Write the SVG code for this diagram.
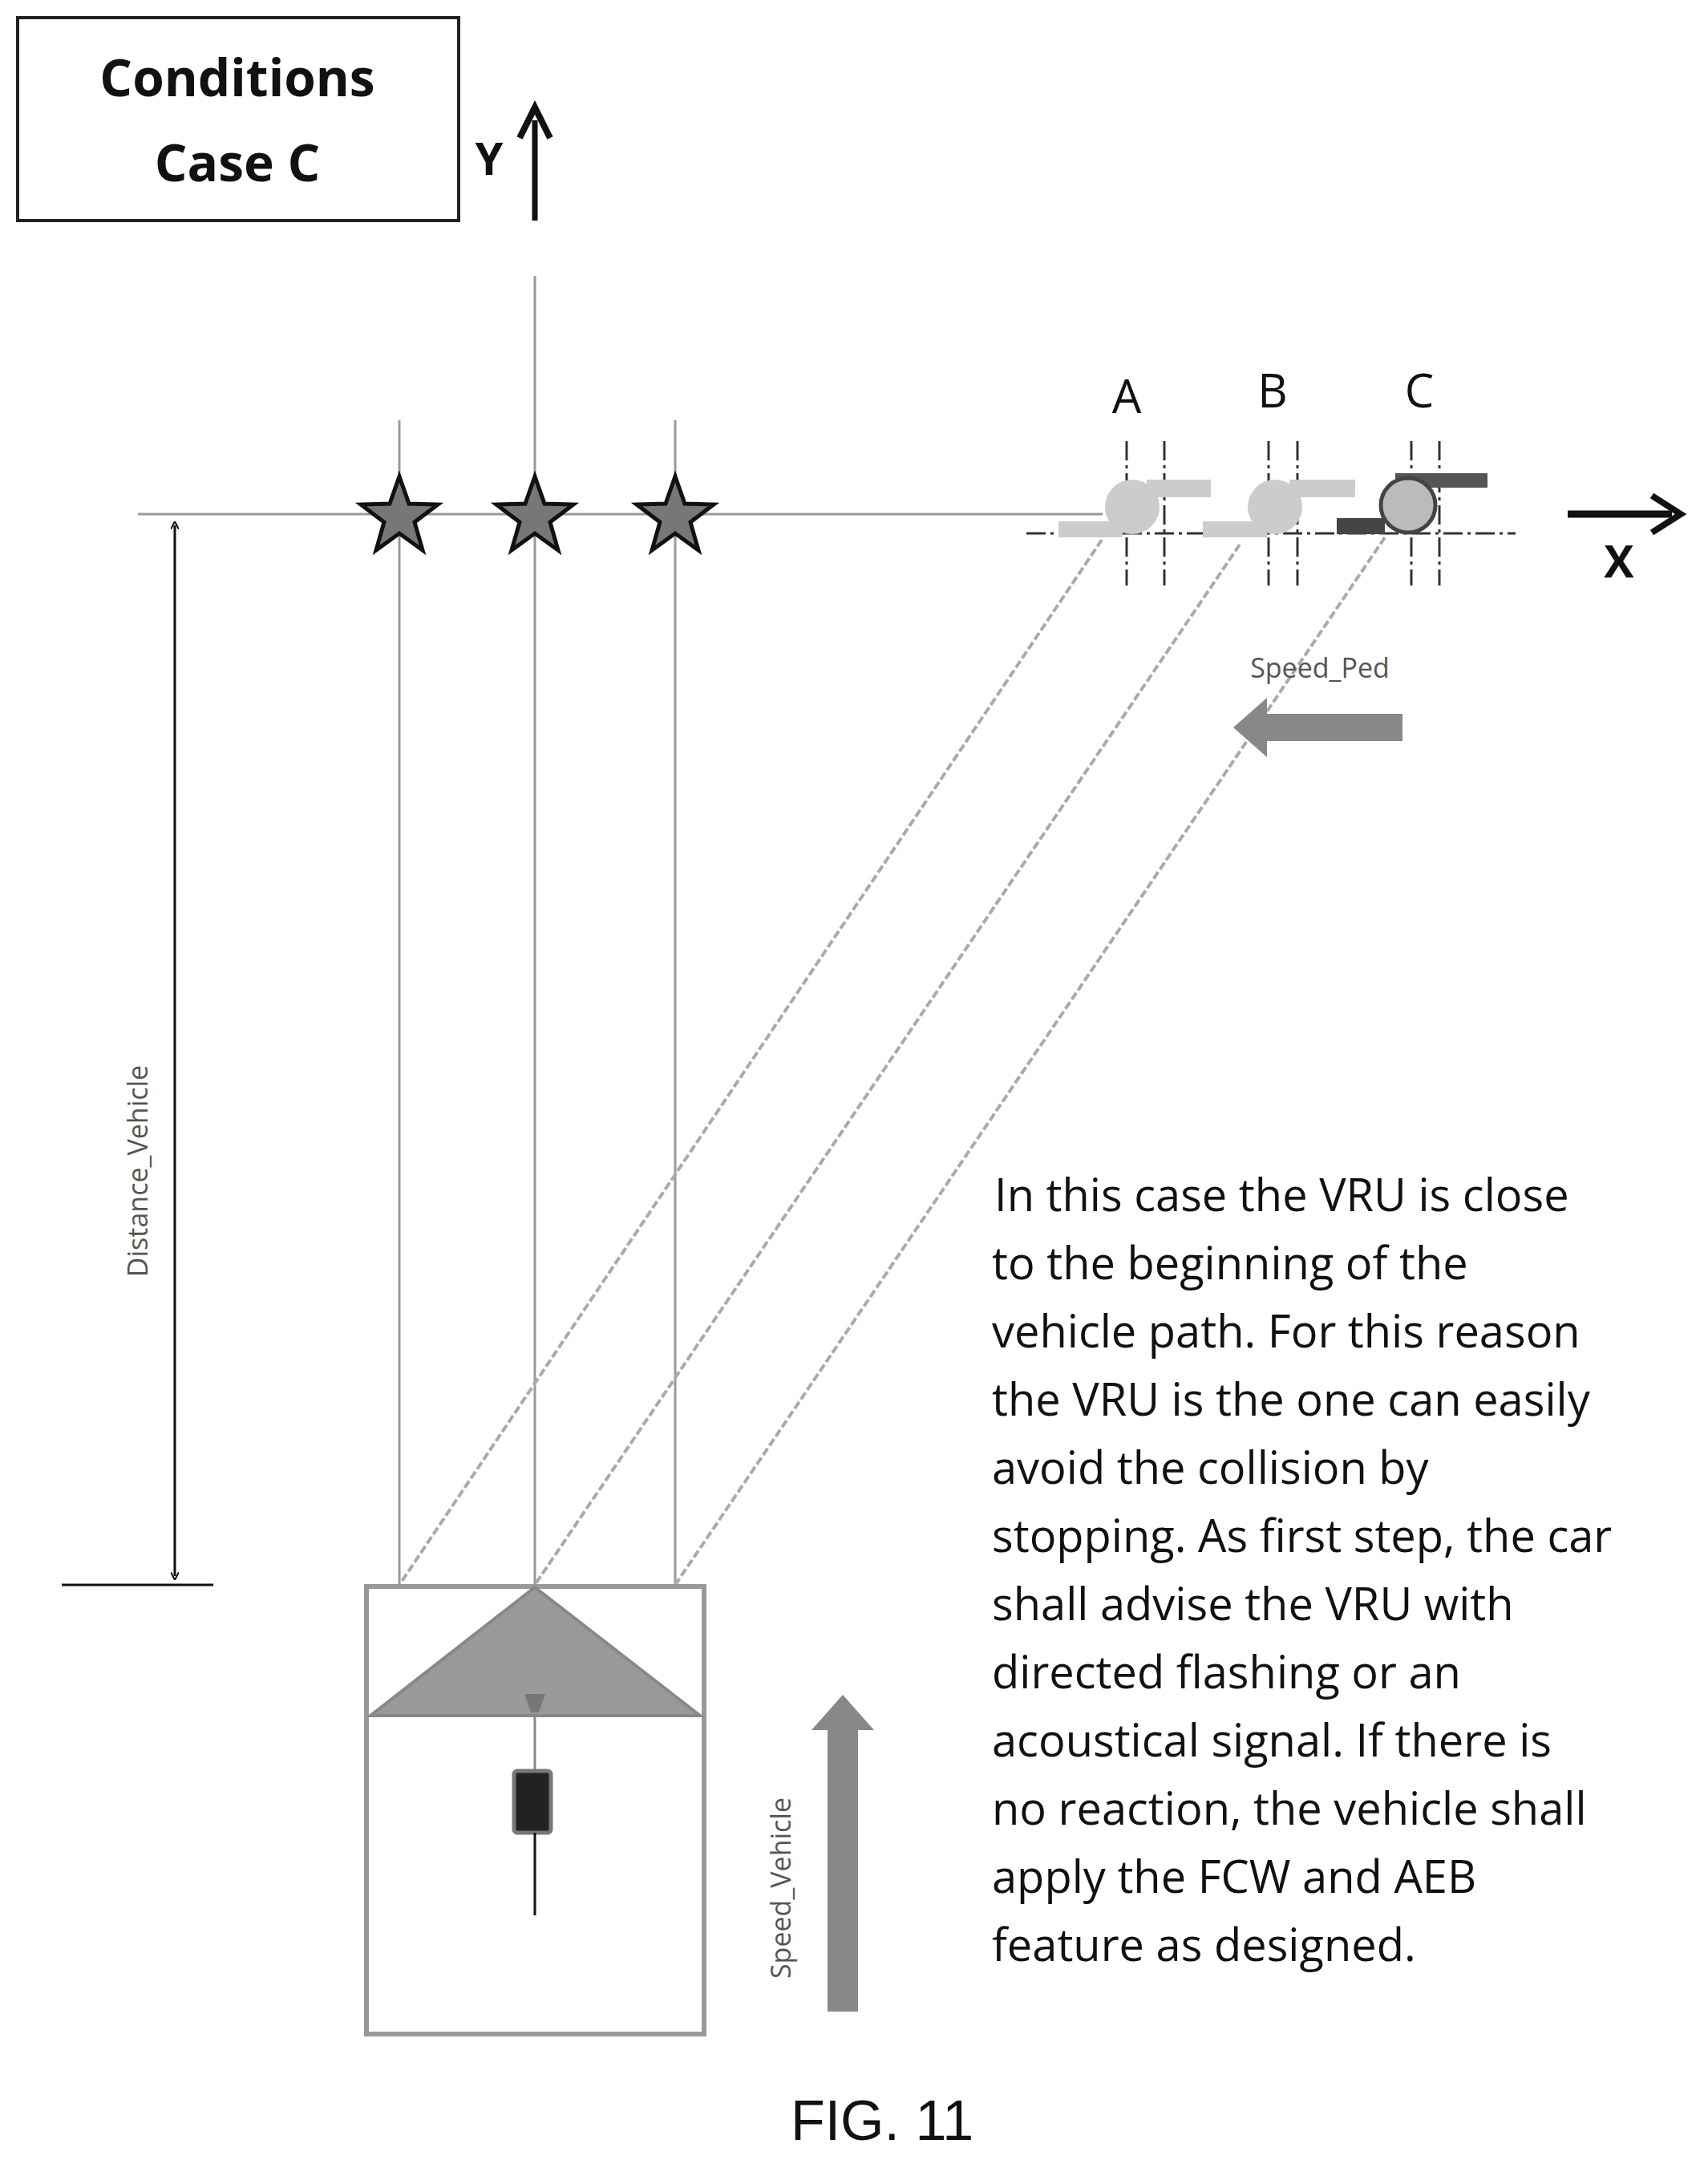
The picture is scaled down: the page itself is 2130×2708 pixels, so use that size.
<svg xmlns="http://www.w3.org/2000/svg" width="2130" height="2708" viewBox="0 0 2130 2708">
<style>
.t{font-family:"Open Sans",sans-serif;fill:#111}
.thin{stroke:#999;stroke-width:3;fill:none}
.dd{stroke:#333;stroke-width:3;stroke-dasharray:24,6,4,6;fill:none}
.diag{stroke:#aaa;stroke-width:4;stroke-dasharray:10,4;fill:none}
.star{fill:#777;stroke:#111;stroke-width:5}
</style>
<defs>
<marker id="ah" markerWidth="10" markerHeight="10" refX="5" refY="5" orient="auto-start-reverse" markerUnits="userSpaceOnUse"><path d="M0,0 L10,5 L0,10" fill="none" stroke="#111" stroke-width="2"/></marker>
<path id="st" d="M0,-50 L12,-16 L48,-15 L19,7 L29,42 L0,21 L-29,42 L-19,7 L-48,-15 L-12,-16 Z"/>
</defs>
<rect width="2130" height="2708" fill="#fff"/>
<g id="title">
<rect x="22" y="22" width="550" height="253" fill="#fff" stroke="#222" stroke-width="4"/>
<text class="t" x="296" y="120" font-size="64" font-weight="bold" text-anchor="middle">Conditions</text>
<text class="t" x="296" y="226" font-size="64" font-weight="bold" text-anchor="middle">Case C</text>
</g>
<g id="axes">
<line x1="667" y1="275" x2="667" y2="150" stroke="#111" stroke-width="7"/>
<path d="M648,172 L667,134 L686,172" fill="none" stroke="#111" stroke-width="8"/>
<text class="t" x="610" y="218" font-size="56" font-weight="bold" text-anchor="middle">Y</text>
<line x1="1955" y1="641" x2="2085" y2="641" stroke="#111" stroke-width="9"/>
<path d="M2060,618 L2096,641 L2060,664" fill="none" stroke="#111" stroke-width="8"/>
<text class="t" x="2019" y="720" font-size="56" font-weight="bold" text-anchor="middle">X</text>
</g>
<g id="connectors">
<line class="thin" x1="667" y1="344" x2="667" y2="1976"/>
<line class="thin" x1="172" y1="641" x2="1375" y2="641"/>
<line class="thin" x1="498" y1="524" x2="498" y2="1976"/>
<line class="thin" x1="842" y1="524" x2="842" y2="1976"/>
<line class="dd" x1="1280" y1="665" x2="1890" y2="665"/>
<line class="dd" x1="1405" y1="550" x2="1405" y2="730"/><line class="dd" x1="1452" y1="550" x2="1452" y2="730"/>
<line class="dd" x1="1582" y1="550" x2="1582" y2="730" stroke="#999"/><line class="dd" x1="1618" y1="550" x2="1618" y2="730" stroke="#999"/>
<line class="dd" x1="1760" y1="550" x2="1760" y2="730"/><line class="dd" x1="1795" y1="550" x2="1795" y2="730"/>
<line class="diag" x1="1374" y1="673" x2="498" y2="1976"/>
<line class="diag" x1="1546" y1="679" x2="667" y2="1976"/>
<line class="diag" x1="1727" y1="670" x2="842" y2="1976" stroke="#888"/>
<line x1="218" y1="655" x2="218" y2="1965" stroke="#111" stroke-width="3" marker-start="url(#ah)" marker-end="url(#ah)"/>
<line x1="77" y1="1976" x2="266" y2="1976" stroke="#111" stroke-width="3"/>
</g>
<g id="stars">
<use href="#st" x="498" y="644" class="star"/>
<use href="#st" x="667" y="644" class="star"/>
<use href="#st" x="842" y="644" class="star"/>
</g>
<g id="labels">
<text class="t" x="1405" y="515" font-size="58" text-anchor="middle">A</text>
<text class="t" x="1587" y="508" font-size="58" text-anchor="middle">B</text>
<text class="t" x="1770" y="508" font-size="58" text-anchor="middle">C</text>
<text class="t" x="1646" y="845" font-size="34" text-anchor="middle" style="fill:#555">Speed_Ped</text>
<text class="t" font-size="34" text-anchor="middle" transform="translate(184,1460) rotate(-90)" style="fill:#555">Distance_Vehicle</text>
<text class="t" font-size="34" text-anchor="middle" transform="translate(986,2354) rotate(-90)" style="fill:#555">Speed_Vehicle</text>
</g>
<g id="pedA" fill="#ccc">
<circle cx="1412" cy="632" r="34"/><rect x="1430" y="598" width="80" height="22"/><rect x="1320" y="650" width="80" height="20"/>
</g>
<g id="pedB" fill="#ccc">
<circle cx="1590" cy="632" r="34"/><rect x="1608" y="598" width="82" height="22"/><rect x="1500" y="650" width="80" height="20"/>
</g>
<g id="pedC">
<rect x="1740" y="590" width="115" height="18" fill="#555"/>
<circle cx="1756" cy="630" r="34" fill="#bbb" stroke="#444" stroke-width="5"/>
<rect x="1667" y="646" width="60" height="20" fill="#444"/>
</g>
<g id="speedPed">
<path d="M1749,890 L1580,890 L1580,870 L1538,907 L1580,944 L1580,924 L1749,924 Z" fill="#888"/>
</g>
<g id="vehicle">
<rect x="457" y="1978" width="421" height="558" fill="#fff" stroke="#999" stroke-width="6"/>
<path d="M667,1979 L462,2139 L873,2139 Z" fill="#999" stroke="#888" stroke-width="4"/>
<line x1="667" y1="2139" x2="667" y2="2208" stroke="#888" stroke-width="3"/>
<path d="M654,2112 L680,2112 L672,2135 L662,2135 Z" fill="#777"/>
<rect x="641" y="2208" width="46" height="77" fill="#222" stroke="#777" stroke-width="5" rx="4"/>
<line x1="667" y1="2285" x2="667" y2="2388" stroke="#111" stroke-width="3"/>
</g>
<g id="speedVehicle">
<path d="M1032,2508 L1032,2157 L1012,2157 L1051,2113 L1090,2157 L1070,2157 L1070,2508 Z" fill="#888"/>
</g>
<g id="note" class="t" font-size="56">
<text x="1240" y="1510">In this case the VRU is close</text>
<text x="1237" y="1595">to the beginning of the</text>
<text x="1237" y="1680">vehicle path. For this reason</text>
<text x="1237" y="1765">the VRU is the one can easily</text>
<text x="1237" y="1850">avoid the collision by</text>
<text x="1237" y="1935">stopping. As first step, the car</text>
<text x="1237" y="2020">shall advise the VRU with</text>
<text x="1237" y="2105">directed flashing or an</text>
<text x="1237" y="2190">acoustical signal. If there is</text>
<text x="1237" y="2275">no reaction, the vehicle shall</text>
<text x="1237" y="2360">apply the FCW and AEB</text>
<text x="1237" y="2445">feature as designed.</text>
</g>
<text x="1100" y="2668" font-family="Liberation Sans,Arial,sans-serif" font-size="70" text-anchor="middle" fill="#111">FIG. 11</text>
</svg>
